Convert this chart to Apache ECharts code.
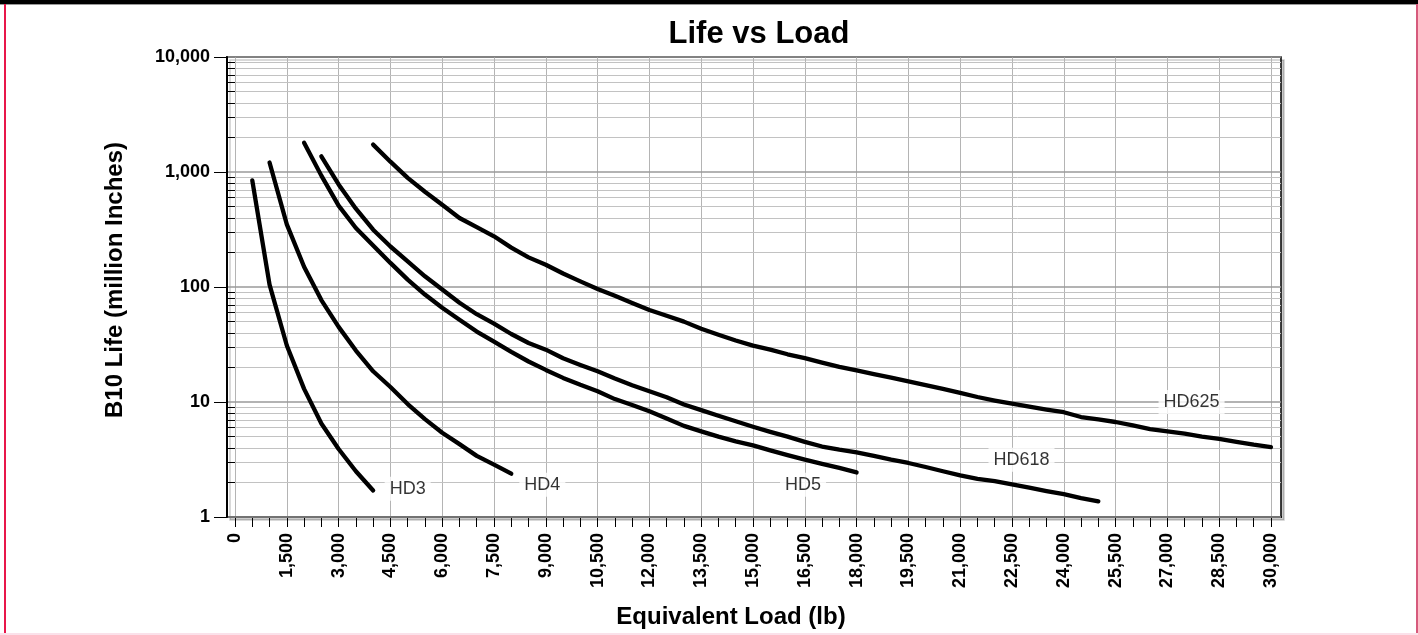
<!DOCTYPE html>
<html>
<head>
<meta charset="utf-8">
<script src="https://cdn.jsdelivr.net/npm/echarts@6/dist/echarts.min.js"></script>
<style>
html,body{margin:0;padding:0;background:#fff;}
#wrap{position:relative;width:1418px;height:635px;overflow:hidden;}
#chart{position:absolute;left:0;top:0;width:1418px;height:635px;}
.f{position:absolute;pointer-events:none;}
</style>
</head>
<body>
<div id="wrap">
  <div id="chart"></div>
  <div class="f" style="left:0;top:0;width:1418px;height:4px;background:#000;"></div>
  <div class="f" style="left:0;top:4px;width:1418px;height:1px;background:#999;"></div>
  <div class="f" style="left:4px;top:4px;width:2px;height:631px;background:#e8174a;"></div>
  <div class="f" style="left:1416px;top:4px;width:2px;height:631px;background:#d65a7c;"></div>
  <div class="f" style="left:0;top:633px;width:1418px;height:2px;background:#fbe1ea;"></div>
</div>
<script>
// ---------- data ----------
const seriesNames = ['HD3', 'HD4', 'HD5', 'HD618', 'HD625'];

const hd3 = [[500,845],[1000,105],[1500,31],[2000,13],[2500,6.5],[3000,3.9],[3500,2.5],[4000,1.7]];

const hd4 = [[1000,1210],[1500,350],[2000,150],[2500,77],[3000,45],[3500,28],[4000,18.5],[4500,13.5],
  [5000,9.6],[5500,7.1],[6000,5.4],[6500,4.3],[7000,3.4],[7500,2.85],[8000,2.38]];

const hd5 = [[2000,1800],[2500,930],[3000,510],[3500,326],[4000,230],[4500,162],[5000,116],[5500,86],
  [6000,66],[6500,52],[7000,41],[7500,33.5],[8000,27.3],[8500,22.5],[9000,19],[9500,16.2],[10000,14.1],
  [10500,12.4],[11000,10.6],[11500,9.4],[12000,8.3],[12500,7.2],[13000,6.2],[13500,5.55],[14000,5.0],
  [14500,4.55],[15000,4.2],[15500,3.8],[16000,3.45],[16500,3.15],[17000,2.9],[17500,2.67],[18000,2.44]];

const hd618 = [[2500,1370],[3000,780],[3500,480],[4000,315],[4500,225],[5000,167],[5500,124],[6000,95],
  [6500,73],[7000,58],[7500,48],[8000,39],[8500,32.6],[9000,28.5],[9500,24],[10000,21],[10500,18.5],
  [11000,16],[11500,14],[12000,12.4],[12500,11],[13000,9.5],[13500,8.5],[14000,7.6],[14500,6.8],
  [15000,6.1],[15500,5.5],[16000,5.0],[16500,4.5],[17000,4.1],[17500,3.85],[18000,3.65],[18500,3.4],
  [19000,3.15],[19500,2.95],[20000,2.72],[20500,2.5],[21000,2.3],[21500,2.15],[22000,2.05],[22500,1.92],
  [23000,1.8],[23500,1.68],[24000,1.58],[24500,1.46],[25000,1.37]];

const hd625 = [[4000,1730],[4500,1230],[5000,890],[5500,674],[6000,520],[6500,398],[7000,332],[7500,276],
  [8000,220],[8500,181],[9000,156],[9500,131],[10000,112],[10500,96],[11000,84],[11500,72.6],[12000,63],
  [12500,56.3],[13000,50],[13500,43.4],[14000,38.5],[14500,34.3],[15000,30.9],[15500,28.5],[16000,26],
  [16500,24.1],[17000,22],[17500,20.2],[18000,18.8],[18500,17.5],[19000,16.3],[19500,15.1],[20000,14],
  [20500,13],[21000,12],[21500,11.05],[22000,10.3],[22500,9.67],[23000,9.1],[23500,8.6],[24000,8.15],
  [24500,7.4],[25000,7.05],[25500,6.7],[26000,6.25],[26500,5.82],[27000,5.55],[27500,5.3],[28000,5.0],
  [28500,4.77],[29000,4.5],[29500,4.25],[30000,4.06]];

const seriesData = [hd3, hd4, hd5, hd618, hd625];

// curve label anchors (data space)
const labelLoad = [5000, 8900, 16450, 22775, 27700];
const labelLife = [1.76, 1.91, 1.91, 3.15, 10];

// tick labels
const xLabelValues = [0,1500,3000,4500,6000,7500,9000,10500,12000,13500,15000,16500,18000,19500,
  21000,22500,24000,25500,27000,28500,30000];
const xTickStep = 500;
const yLabelValues = [1, 10, 100, 1000, 10000];
const yMinorMultipliers = [2, 3, 4, 5, 6, 7, 8, 9];

// ---------- chart ----------
const FONT = '"Liberation Sans", Arial, Helvetica, sans-serif';
const xMin = -232, xMax = 30290;
const xTickValues = [];
for (let v = 0; v <= 30000; v += xTickStep) xTickValues.push(v);
// minor gridline positions expressed as decades (log10) on a hidden linear helper axis
const yMinorExp = [];
yLabelValues.slice(0, -1).forEach(d => yMinorMultipliers.forEach(m => yMinorExp.push(Math.log10(d * m))));
const fmt = v => Number(v).toLocaleString('en-US');

const chart = echarts.init(document.getElementById('chart'), null, {renderer: 'canvas'});

const lineSeries = seriesNames.map((n, i) => ({
  name: n, type: 'line', data: seriesData[i], xAxisIndex: 0, yAxisIndex: 0,
  showSymbol: false, symbol: 'none', smooth: false, z: 5,
  lineStyle: {color: '#000', width: 4.3, cap: 'round', join: 'round'},
  emphasis: {disabled: true}
}));

const labelSeries = {
  type: 'scatter', xAxisIndex: 0, yAxisIndex: 0, symbolSize: 0, z: 6, silent: true,
  data: seriesNames.map((n, i) => ({value: [labelLoad[i], labelLife[i]], name: n})),
  label: {
    show: true, position: 'inside', formatter: p => p.name,
    color: '#000', fontFamily: FONT, fontSize: 18, fontWeight: 'normal',
    backgroundColor: '#fff', padding: [3, 5]
  }
};

chart.setOption({
  animation: false,
  backgroundColor: '#fff',
  title: {
    text: 'Life vs Load', left: 754, top: 14, textAlign: 'center',
    textStyle: {fontFamily: FONT, fontSize: 31, fontWeight: 'bold', color: '#000'}
  },
  grid: {
    left: 227, right: 137, top: 57, bottom: 118, show: true,
    backgroundColor: '#fff', borderColor: '#000', borderWidth: 1.5,
    shadowColor: 'rgba(0,0,0,0.2)', shadowOffsetX: 3, shadowOffsetY: 3, shadowBlur: 0
  },
  xAxis: [{
    type: 'value', min: xMin, max: xMax, position: 'bottom',
    name: 'Equivalent Load (lb)', nameLocation: 'middle', nameGap: 88,
    nameTextStyle: {fontFamily: FONT, fontSize: 24, fontWeight: 'bold', color: '#000', padding: [0, 46, 0, 0]},
    axisLine: {show: true, onZero: false, lineStyle: {color: '#000', width: 2}},
    axisTick: {show: true, customValues: xTickValues, length: 10, lineStyle: {color: '#000', width: 1}},
    axisLabel: {show: true, customValues: xLabelValues, rotate: 90, margin: 16, formatter: fmt,
      fontFamily: FONT, fontSize: 18, fontWeight: 'bold', color: '#000'},
    splitLine: {show: false}
  }, {
    type: 'value', min: xMin, max: xMax, position: 'bottom',
    axisLine: {show: false}, axisLabel: {show: false},
    axisTick: {show: false, customValues: xLabelValues},
    splitLine: {show: true, lineStyle: {color: '#b4b4b4', width: 1}}
  }],
  yAxis: [{
    type: 'log', logBase: 10, min: 1, max: 10000, position: 'left', offset: 0, z: 4,
    name: 'B10 Life (million Inches)', nameLocation: 'middle', nameGap: 100, nameRotate: 90,
    nameTextStyle: {fontFamily: FONT, fontSize: 24, fontWeight: 'bold', color: '#000', padding: [0, 0, 0, 14]},
    axisLine: {show: true, onZero: false, lineStyle: {color: '#000', width: 2}},
    axisTick: {show: true, length: 13, lineStyle: {color: '#000', width: 1}},
    minorTick: {show: false},
    axisLabel: {margin: 17, formatter: fmt, fontFamily: FONT, fontSize: 18, fontWeight: 'bold', color: '#000'},
    splitLine: {show: true, lineStyle: {color: '#9a9a9a', width: 1.5}},
    minorSplitLine: {show: false}
  }, {
    type: 'value', min: 0, max: 4, position: 'left', offset: 0, z: 3,
    axisLine: {show: false}, axisLabel: {show: false},
    axisTick: {show: true, customValues: yMinorExp, length: 8, lineStyle: {color: '#000', width: 1}},
    minorTick: {show: false},
    splitLine: {show: true, lineStyle: {color: '#c2c2c2', width: 1}},
    minorSplitLine: {show: false}
  }],
  series: lineSeries.concat([labelSeries])
});
</script>
</body>
</html>
